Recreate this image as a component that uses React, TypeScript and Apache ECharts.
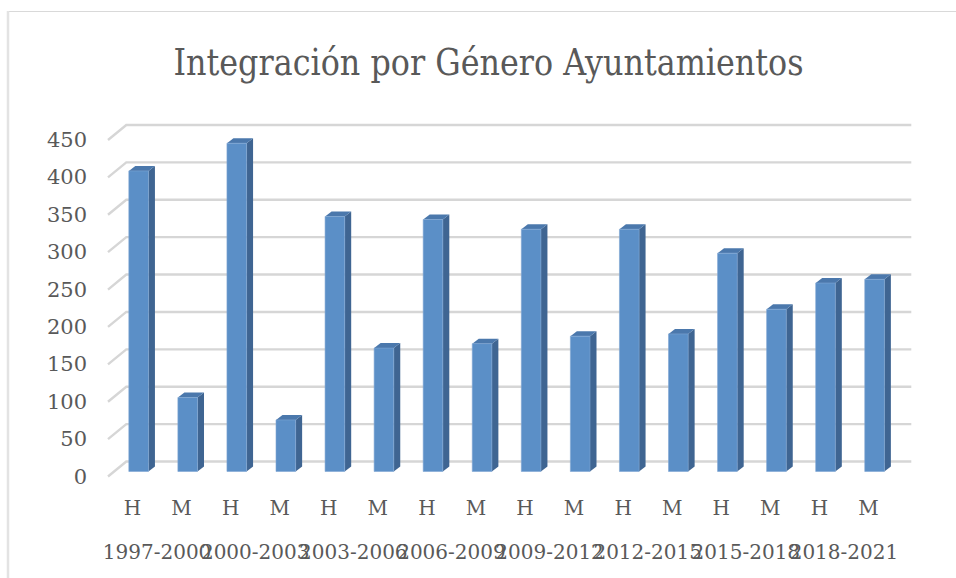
import React, { useEffect, useRef } from "react";
import * as echarts from "echarts";

const periods = [
  "1997-2000",
  "2000-2003",
  "2003-2006",
  "2006-2009",
  "2009-2012",
  "2012-2015",
  "2015-2018",
  "2018-2021",
];
const genderLabels = ["H", "M"];
const hombres = [402, 439, 341, 337, 324, 324, 292, 252];
const mujeres = [99, 69, 165, 171, 181, 184, 217, 257];
const yTicks = [0, 50, 100, 150, 200, 250, 300, 350, 400, 450];
const titleText = "Integración por Género Ayuntamientos";

const categories: string[] = [];
const barData: number[][] = [];
periods.forEach((_, i) => {
  categories.push(genderLabels[0]);
  barData.push([categories.length - 1, hombres[i]]);
  categories.push(genderLabels[1]);
  barData.push([categories.length - 1, mujeres[i]]);
});

const FONT = "'DejaVu Serif', serif";
const TEXT = "#595959";
// depth of the floor (front edge to back wall)
const DEPTH_X = 18.3;
const DEPTH_Y = 15;

export default function App() {
  const ref = useRef<HTMLDivElement>(null);
  useEffect(() => {
    if (!ref.current) return;
    const chart = echarts.init(ref.current, undefined, { renderer: "svg" });
    chart.setOption({
      animation: false,
      backgroundColor: "#ffffff",
      graphic: [
        {
          type: "line",
          shape: { x1: 8, y1: 11.5, x2: 956, y2: 11.5 },
          style: { stroke: "#d9d9d9", lineWidth: 1 },
        },
        {
          type: "line",
          shape: { x1: 8, y1: 11, x2: 8, y2: 578 },
          style: { stroke: "#e3e3e3", lineWidth: 2.5 },
        },
        {
          type: "group",
          x: 488.5,
          y: 62,
          scaleX: 0.86,
          children: [
            {
              type: "text",
              x: 0,
              y: 0,
              style: {
                text: titleText,
                fontFamily: "'DejaVu Serif', serif",
                fontSize: 37,
                fontWeight: "normal",
                textAlign: "center",
                textVerticalAlign: "middle",
                fill: TEXT,
              },
            },
          ],
        },
      ],
      grid: { left: 108, right: 63, top: 140, bottom: 101.5 },
      xAxis: [
        {
          type: "category",
          data: categories,
          axisLine: { show: false },
          axisTick: { show: false },
          axisLabel: {
            interval: 0,
            margin: 21,
            fontFamily: FONT,
            fontSize: 20,
            color: TEXT,
          },
        },
        {
          type: "category",
          data: periods,
          position: "bottom",
          axisLine: { show: false },
          axisTick: { show: false },
          axisLabel: {
            interval: 0,
            margin: 65,
            fontFamily: FONT,
            fontSize: 20,
            color: TEXT,
          },
        },
      ],
      yAxis: {
        type: "value",
        min: 0,
        max: 450,
        interval: 50,
        axisLine: { show: false },
        axisTick: { show: false },
        splitLine: { show: false },
        axisLabel: {
          margin: 21,
          fontFamily: FONT,
          fontSize: 21,
          color: TEXT,
        },
      },
      series: [
        {
          type: "custom",
          silent: true,
          clip: false,
          data: yTicks.map((v) => [0, v]),
          renderItem: (params: any, api: any) => {
            const cs = params.coordSys;
            const p = api.coord([0, api.value(1)]);
            const y = p[1];
            return {
              type: "polyline",
              shape: {
                points: [
                  [cs.x, y],
                  [cs.x + DEPTH_X, y - DEPTH_Y],
                  [cs.x + cs.width + DEPTH_X, y - DEPTH_Y],
                ],
              },
              style: { stroke: "#d6d6d6", lineWidth: 2.4, fill: "none" },
            };
          },
        },
        {
          type: "custom",
          clip: false,
          data: barData,
          renderItem: (params: any, api: any) => {
            const idx = api.value(0);
            const v = api.value(1);
            const top = api.coord([idx, v]);
            const base = api.coord([idx, 0]);
            const band = api.size([1, 0])[0];
            const w = band * 0.4;
            const dx = DEPTH_X / 3;
            const dy = DEPTH_Y / 3;
            const x0 = top[0] - w / 2 + dx;
            const x1 = x0 + w;
            const yT = top[1] - dy;
            const yB = base[1] - dy;
            const sx = DEPTH_X / 3 + 0.4;
            const sy = DEPTH_Y / 3;
            return {
              type: "group",
              children: [
                {
                  type: "polygon",
                  shape: {
                    points: [
                      [x1, yB],
                      [x1 + sx, yB - sy],
                      [x1 + sx, yT - sy],
                      [x1, yT],
                    ],
                  },
                  style: { fill: "#3F6592" },
                },
                {
                  type: "polygon",
                  shape: {
                    points: [
                      [x0, yT],
                      [x0 + sx, yT - sy],
                      [x1 + sx, yT - sy],
                      [x1, yT],
                    ],
                  },
                  style: { fill: "#4B78AC" },
                },
                {
                  type: "rect",
                  shape: { x: x0, y: yT, width: w, height: yB - yT },
                  style: { fill: "#5B8FC7", stroke: "#7FA6D3", lineWidth: 0.6 },
                },
              ],
            };
          },
        },
      ],
    });
    return () => chart.dispose();
  }, []);
  return (
    <div
      ref={ref}
      style={{ position: "fixed", left: 0, top: 0, width: 956, height: 578 }}
    />
  );
}
